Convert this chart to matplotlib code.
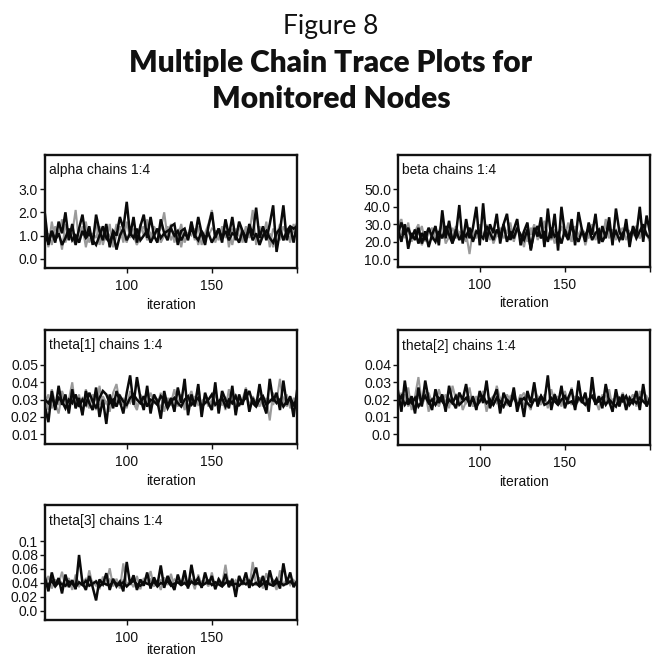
import numpy as np
import matplotlib
matplotlib.use("Agg")
import matplotlib.pyplot as plt

# ---------------- data ----------------
first_iter = 52
iter_step = 2
x_ticks = [100, 150, 200]
x_tick_labels = ["100", "150", ""]

alpha_black_a = [1.9,0.6,1.2,0.7,1.6,1.1,2.0,0.8,1.5,0.6,1.3,1.9,0.9,1.4,0.6,
                 1.9,1.2,0.8,1.5,0.5,1.2,1.0,1.8,1.3,2.45,1.0,1.8,0.7,1.4,1.9,
                 0.9,1.8,1.0,0.7,1.7,1.1,0.8,1.4,1.5,0.6,1.2,1.3,0.8,1.6,0.9,
                 1.8,1.1,0.6,1.4,2.0,0.9,1.3,0.7,1.7,1.0,1.8,0.8,1.6,1.2,0.7,
                 1.5,1.0,2.2,0.9,1.4,0.8,1.5,2.3,0.3,1.2,2.3,0.8,1.4,0.7,1.5]
alpha_black_b = [1.0,0.7,1.2,0.8,1.1,0.6,0.9,1.3,0.8,1.0,0.7,1.2,0.9,1.1,0.8,
                 0.6,1.0,1.4,0.9,0.7,1.1,0.4,1.0,1.3,0.8,1.1,0.9,1.3,0.8,1.0,
                 1.2,0.7,1.0,1.3,0.9,1.1,1.2,1.3,1.0,1.2,0.8,1.1,0.9,1.3,1.0,
                 0.8,1.2,0.9,1.1,0.7,1.0,1.3,0.9,1.2,0.8,1.1,1.0,0.7,1.2,0.9,
                 1.3,0.8,1.1,0.6,1.0,1.2,0.9,0.7,1.1,1.3,0.8,1.2,1.4,1.3,1.4]
alpha_gray_a = [1.3,0.5,1.6,0.8,1.2,0.4,1.5,0.9,1.1,2.1,0.7,1.4,0.5,1.2,0.9,
                1.6,0.6,1.3,0.8,1.5,0.5,1.0,1.4,0.7,1.6,0.9,1.3,0.6,1.5,1.0,
                1.7,0.8,1.4,1.1,1.3,2.0,0.9,1.5,0.7,1.2,0.5,1.3,0.9,1.6,0.8,
                1.4,0.6,1.1,1.5,2.1,0.7,1.2,1.0,1.6,0.5,1.3,0.9,1.5,0.7,1.2,
                1.1,2.1,0.6,1.4,0.9,1.6,0.5,1.3,1.0,1.5,0.8,1.2,0.7,1.5,0.9]
alpha_gray_b = [0.8,1.1,0.6,1.4,1.0,1.7,0.7,1.2,0.9,0.6,1.3,1.0,1.6,0.7,1.1,
                0.9,1.4,0.6,1.2,1.0,0.8,1.5,0.9,1.1,0.7,1.3,1.0,0.6,1.2,1.4,
                0.8,1.1,0.9,1.3,0.7,1.0,1.4,0.8,1.2,0.9,1.5,0.7,1.1,1.0,1.3,
                0.6,1.2,0.9,1.0,1.3,1.2,0.8,1.4,0.9,1.1,0.6,1.3,1.0,0.8,1.4,
                0.9,1.2,1.0,0.7,1.3,0.9,1.1,0.5,1.2,0.8,1.4,1.0,0.9,1.2,1.0]

beta_black_a = [27,20,30,16,25,21,28,19,26,17,24,29,18,38,22,
                32,20,24,41,19,33,22,28,40,18,42,20,30,25,36,
                19,30,36,21,27,33,18,26,31,15,28,23,34,17,39,
                22,36,15,40,25,21,33,18,37,27,20,31,24,36,19,
                29,22,34,18,39,26,21,33,17,29,24,40,20,35,25]
beta_black_b = [25,31,24,28,22,27,19,25,21,28,23,20,26,22,29,
                24,19,27,21,25,23,28,20,26,24,22,29,25,21,27,
                23,30,20,26,22,28,24,21,27,16,25,29,22,26,20,
                28,23,25,19,27,22,29,24,20,26,23,28,21,25,27,
                20,24,29,22,26,21,25,28,23,27,22,26,30,24,22]
beta_gray_a = [28,33,22,31,20,26,30,18,24,28,21,27,25,30,19,
               23,28,22,26,20,25,13,27,23,30,21,26,28,19,24,
               22,29,25,31,20,27,23,17,28,24,30,21,26,32,22,
               27,19,25,29,23,31,20,26,24,28,18,25,30,22,27,
               20,33,24,26,21,28,23,30,19,26,29,22,27,24,20]
beta_gray_b = [33,24,30,26,21,27,24,29,20,25,28,22,26,31,23,
               27,21,29,24,26,20,28,25,22,27,23,30,21,26,24,
               28,22,25,27,21,29,23,26,20,28,24,27,22,30,25,
               21,27,23,28,24,26,20,29,23,27,25,22,28,21,26,
               24,30,22,27,23,25,28,21,26,24,29,22,27,25,23]

theta1_black_a = [0.026,0.017,0.035,0.024,0.038,0.027,0.033,0.022,0.036,0.025,0.031,0.021,0.035,0.028,0.024,
                  0.037,0.020,0.030,0.016,0.033,0.025,0.035,0.029,0.022,0.034,0.044,0.027,0.043,0.031,0.024,
                  0.038,0.022,0.033,0.029,0.019,0.035,0.026,0.031,0.023,0.037,0.028,0.042,0.021,0.033,0.026,
                  0.039,0.020,0.034,0.028,0.024,0.040,0.022,0.035,0.030,0.025,0.038,0.021,0.033,0.027,0.036,
                  0.023,0.031,0.026,0.039,0.028,0.022,0.042,0.029,0.034,0.024,0.041,0.027,0.032,0.020,0.035]
theta1_black_b = [0.030,0.028,0.032,0.026,0.031,0.029,0.025,0.030,0.028,0.033,0.026,0.030,0.027,0.034,0.029,
                  0.025,0.031,0.035,0.033,0.028,0.030,0.026,0.032,0.029,0.027,0.031,0.033,0.030,0.028,0.032,
                  0.026,0.030,0.029,0.027,0.032,0.030,0.025,0.029,0.031,0.028,0.026,0.030,0.032,0.027,0.029,
                  0.031,0.026,0.028,0.030,0.033,0.027,0.029,0.031,0.026,0.030,0.028,0.032,0.027,0.029,0.031,
                  0.035,0.028,0.026,0.030,0.032,0.027,0.029,0.031,0.028,0.030,0.026,0.029,0.031,0.027,0.030]
theta1_gray_a = [0.032,0.024,0.036,0.028,0.022,0.034,0.026,0.030,0.040,0.025,0.033,0.021,0.036,0.027,0.031,
                 0.024,0.038,0.026,0.029,0.023,0.034,0.039,0.027,0.031,0.025,0.035,0.028,0.024,0.033,0.029,
                 0.036,0.025,0.030,0.027,0.034,0.023,0.031,0.028,0.036,0.026,0.032,0.024,0.030,0.035,0.027,
                 0.038,0.025,0.032,0.029,0.026,0.034,0.028,0.031,0.024,0.036,0.027,0.033,0.026,0.030,0.037,
                 0.025,0.032,0.028,0.035,0.026,0.031,0.018,0.034,0.029,0.042,0.027,0.033,0.025,0.031,0.028]
theta1_gray_b = [0.028,0.033,0.025,0.030,0.027,0.035,0.029,0.024,0.032,0.028,0.026,0.031,0.029,0.025,0.033,
                 0.030,0.027,0.032,0.028,0.031,0.026,0.029,0.033,0.027,0.030,0.028,0.032,0.026,0.029,0.031,
                 0.027,0.034,0.028,0.030,0.025,0.032,0.029,0.027,0.031,0.028,0.033,0.026,0.030,0.028,0.032,
                 0.027,0.029,0.031,0.026,0.030,0.033,0.028,0.027,0.031,0.029,0.032,0.026,0.030,0.028,0.033,
                 0.027,0.031,0.029,0.026,0.032,0.028,0.030,0.027,0.033,0.029,0.031,0.026,0.030,0.028,0.032]

theta2_black_a = [0.025,0.013,0.031,0.017,0.022,0.012,0.027,0.016,0.031,0.020,0.014,0.026,0.018,0.023,0.013,
                  0.028,0.019,0.015,0.024,0.020,0.029,0.016,0.022,0.014,0.025,0.018,0.031,0.015,0.021,0.026,
                  0.012,0.024,0.019,0.016,0.027,0.013,0.021,0.010,0.025,0.018,0.030,0.016,0.022,0.019,0.034,
                  0.014,0.023,0.017,0.028,0.015,0.021,0.026,0.014,0.031,0.018,0.024,0.013,0.033,0.017,0.022,
                  0.015,0.029,0.019,0.013,0.026,0.016,0.023,0.014,0.021,0.018,0.025,0.014,0.029,0.016,0.021]
theta2_black_b = [0.019,0.022,0.017,0.020,0.018,0.021,0.016,0.019,0.022,0.018,0.020,0.017,0.021,0.019,0.016,
                  0.020,0.018,0.022,0.017,0.019,0.021,0.018,0.020,0.016,0.019,0.022,0.018,0.020,0.017,0.021,
                  0.019,0.016,0.020,0.018,0.022,0.017,0.019,0.021,0.018,0.016,0.020,0.019,0.022,0.017,0.018,
                  0.021,0.019,0.017,0.020,0.022,0.018,0.019,0.016,0.021,0.019,0.017,0.020,0.022,0.018,0.019,
                  0.021,0.017,0.020,0.018,0.016,0.021,0.019,0.022,0.017,0.020,0.018,0.021,0.019,0.017,0.020]
theta2_gray_a = [0.016,0.024,0.019,0.027,0.014,0.022,0.033,0.018,0.025,0.013,0.021,0.017,0.026,0.019,0.023,
                 0.015,0.028,0.020,0.024,0.014,0.019,0.027,0.016,0.022,0.018,0.025,0.013,0.021,0.017,0.028,
                 0.020,0.015,0.023,0.019,0.026,0.016,0.021,0.024,0.018,0.014,0.029,0.020,0.017,0.023,0.015,
                 0.026,0.019,0.022,0.016,0.025,0.018,0.027,0.014,0.021,0.019,0.024,0.016,0.029,0.020,0.014,
                 0.023,0.018,0.026,0.015,0.021,0.019,0.024,0.017,0.020,0.023,0.016,0.025,0.019,0.022,0.018]
theta2_gray_b = [0.021,0.018,0.023,0.016,0.020,0.019,0.022,0.017,0.021,0.024,0.018,0.020,0.016,0.022,0.019,
                 0.021,0.017,0.023,0.019,0.020,0.018,0.022,0.016,0.021,0.019,0.023,0.017,0.020,0.022,0.018,
                 0.021,0.019,0.017,0.022,0.020,0.018,0.023,0.016,0.021,0.019,0.020,0.022,0.018,0.021,0.017,
                 0.020,0.023,0.019,0.018,0.021,0.020,0.017,0.022,0.019,0.021,0.018,0.020,0.023,0.017,0.021,
                 0.019,0.022,0.018,0.020,0.021,0.017,0.022,0.019,0.020,0.018,0.021,0.023,0.019,0.020,0.021]

theta3_black_a = [0.048,0.028,0.055,0.036,0.047,0.025,0.052,0.034,0.044,0.031,0.080,0.040,0.030,0.050,0.034,
                  0.015,0.045,0.038,0.054,0.030,0.046,0.035,0.042,0.028,0.070,0.038,0.051,0.030,0.045,0.036,
                  0.055,0.032,0.048,0.037,0.065,0.033,0.050,0.040,0.030,0.052,0.036,0.058,0.032,0.066,0.040,
                  0.047,0.033,0.055,0.038,0.050,0.031,0.045,0.037,0.053,0.034,0.046,0.020,0.050,0.038,0.055,
                  0.033,0.048,0.062,0.035,0.050,0.030,0.058,0.038,0.046,0.032,0.068,0.040,0.055,0.034,0.043]
theta3_black_b = [0.040,0.037,0.043,0.035,0.041,0.038,0.036,0.042,0.039,0.034,0.041,0.037,0.043,0.036,0.039,
                  0.042,0.035,0.040,0.038,0.036,0.042,0.039,0.037,0.041,0.035,0.040,0.043,0.038,0.036,0.041,
                  0.039,0.037,0.042,0.035,0.040,0.038,0.043,0.036,0.039,0.041,0.037,0.040,0.035,0.042,0.038,
                  0.040,0.036,0.039,0.043,0.037,0.041,0.038,0.035,0.040,0.042,0.037,0.039,0.036,0.041,0.038,
                  0.043,0.037,0.040,0.035,0.039,0.042,0.038,0.036,0.040,0.041,0.037,0.039,0.042,0.038,0.040]
theta3_gray_a = [0.035,0.050,0.032,0.045,0.038,0.056,0.034,0.047,0.030,0.052,0.037,0.043,0.033,0.058,0.036,
                 0.044,0.031,0.049,0.039,0.061,0.035,0.046,0.032,0.068,0.037,0.042,0.034,0.050,0.031,0.047,
                 0.038,0.057,0.035,0.043,0.030,0.048,0.037,0.053,0.033,0.045,0.039,0.050,0.034,0.046,0.031,
                 0.052,0.037,0.043,0.035,0.055,0.032,0.047,0.038,0.066,0.034,0.044,0.031,0.050,0.037,0.045,
                 0.033,0.070,0.036,0.048,0.032,0.054,0.038,0.043,0.030,0.058,0.035,0.047,0.037,0.044,0.036]
theta3_gray_b = [0.042,0.038,0.046,0.036,0.044,0.040,0.037,0.045,0.039,0.043,0.035,0.041,0.046,0.038,0.042,
                 0.036,0.044,0.040,0.037,0.045,0.039,0.042,0.036,0.044,0.040,0.038,0.046,0.037,0.041,0.043,
                 0.039,0.045,0.036,0.040,0.044,0.038,0.042,0.037,0.045,0.040,0.039,0.043,0.036,0.041,0.044,
                 0.038,0.042,0.040,0.037,0.045,0.039,0.041,0.036,0.043,0.040,0.038,0.044,0.037,0.042,0.039,
                 0.045,0.038,0.041,0.037,0.043,0.040,0.039,0.044,0.036,0.042,0.040,0.038,0.043,0.039,0.041]

panel_titles = ["alpha chains 1:4", "beta chains 1:4", "theta[1] chains 1:4",
                "theta[2] chains 1:4", "theta[3] chains 1:4"]
alpha_yticks = [0.0, 1.0, 2.0, 3.0]
alpha_ylabels = ["0.0", "1.0", "2.0", "3.0"]
beta_yticks = [10, 20, 30, 40, 50]
beta_ylabels = ["10.0", "20.0", "30.0", "40.0", "50.0"]
theta1_yticks = [0.01, 0.02, 0.03, 0.04, 0.05]
theta1_ylabels = ["0.01", "0.02", "0.03", "0.04", "0.05"]
theta2_yticks = [0.0, 0.01, 0.02, 0.03, 0.04]
theta2_ylabels = ["0.0", "0.01", "0.02", "0.03", "0.04"]
theta3_yticks = [0.0, 0.02, 0.04, 0.06, 0.08, 0.1]
theta3_ylabels = ["0.0", "0.02", "0.04", "0.06", "0.08", "0.1"]

# ---------------- layout ----------------
W, H = 655, 661
fig = plt.figure(figsize=(W / 100, H / 100), dpi=100)
fig.patch.set_facecolor("white")

SANS = ["Liberation Sans", "DejaVu Sans"]

def box(left, top, right, bottom):
    return [left / W, 1 - bottom / H, (right - left) / W, (bottom - top) / H]

panels = [
    (box(45, 155, 297, 268), panel_titles[0],
     [alpha_gray_a, alpha_gray_b], [alpha_black_a, alpha_black_b],
     alpha_yticks, alpha_ylabels, (-0.39, 4.46), -0.36),
    (box(398, 155, 650, 267), panel_titles[1],
     [beta_gray_a, beta_gray_b], [beta_black_a, beta_black_b],
     beta_yticks, beta_ylabels, (5.6, 69.6), -0.36),
    (box(45, 330, 297, 444), panel_titles[2],
     [theta1_gray_a, theta1_gray_b], [theta1_black_a, theta1_black_b],
     theta1_yticks, theta1_ylabels, (0.0044, 0.0702), -0.36),
    (box(398, 330, 650, 445), panel_titles[3],
     [theta2_gray_a, theta2_gray_b], [theta2_black_a, theta2_black_b],
     theta2_yticks, theta2_ylabels, (-0.0062, 0.0602), -0.36),
    (box(45, 505, 297, 620), panel_titles[4],
     [theta3_gray_a, theta3_gray_b], [theta3_black_a, theta3_black_b],
     theta3_yticks, theta3_ylabels, (-0.013, 0.1515), -0.30),
]

for rect, title, grays, blacks, yt, yl, ylim, xlab_y in panels:
    ax = fig.add_axes(rect)
    for s in grays:
        xs = first_iter + iter_step * np.arange(len(s))
        ax.plot(xs, s, color="#9a9a9a", lw=1.5, solid_joinstyle="miter")
    for s in blacks:
        xs = first_iter + iter_step * np.arange(len(s))
        ax.plot(xs, s, color="#0a0a0a", lw=1.8, solid_joinstyle="miter")
    ax.set_xlim(52, 200)
    ax.set_ylim(*ylim)
    ax.set_yticks(yt)
    ax.set_yticklabels(yl, fontsize=10, family=SANS)
    ax.set_xticks(x_ticks)
    ax.set_xticklabels(x_tick_labels, fontsize=10, family=SANS)
    ax.tick_params(axis="y", direction="out", length=3.5, width=1.0, pad=1.5, colors="#111111")
    ax.tick_params(axis="x", direction="out", length=3.5, width=1.0, pad=4.5, colors="#111111")
    for sp in ax.spines.values():
        sp.set_linewidth(1.7)
        sp.set_color("#111111")
    ax.text(0.016, 0.83, title, transform=ax.transAxes, fontsize=10,
            family=SANS, color="#111111", va="baseline", ha="left")
    ax.text(0.5, xlab_y, "iteration", transform=ax.transAxes, fontsize=10,
            family=SANS, color="#111111", va="baseline", ha="center")

fig.text(0.5046, 1 - 34 / H, "Figure 8", ha="center", va="baseline",
         fontsize=19, family=["Lato", "DejaVu Sans"], color="#111111")
fig.text(0.504, 1 - 72 / H, "Multiple Chain Trace Plots for", ha="center",
         va="baseline", fontsize=21.5, fontweight="heavy",
         family=["Lato", "DejaVu Sans"], color="#111111")
fig.text(0.506, 1 - 108 / H, "Monitored Nodes", ha="center", va="baseline",
         fontsize=21.5, fontweight="heavy", family=["Lato", "DejaVu Sans"],
         color="#111111")

fig.savefig("out.png", dpi=100, facecolor="white")
